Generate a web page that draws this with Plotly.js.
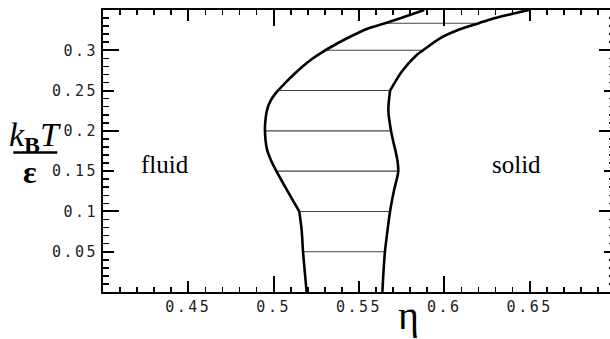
<!DOCTYPE html>
<html>
<head>
<meta charset="utf-8">
<script src="https://cdn.plot.ly/plotly-3.0.1.min.js"></script>
<style>
html, body { margin: 0; padding: 0; overflow: hidden; background: #fff; }
#chart { width: 635px; height: 339px; }
.xtick text, .ytick text { letter-spacing: 2.5px; }
</style>
</head>
<body>
<div id="chart"></div>
<script>
// Fluid-side coexistence boundary (packing fraction eta vs reduced temperature)
var fluidEta = [0.5193, 0.5179, 0.5172, 0.5164, 0.5150, 0.5109, 0.5058, 0.5016, 0.4984, 0.4961, 0.4949, 0.4953, 0.4964, 0.4984, 0.5008, 0.5025, 0.5067, 0.5121, 0.5173, 0.5224, 0.5276, 0.5315, 0.5430, 0.5553, 0.5662, 0.5763, 0.5882];
var fluidT   = [0.000,  0.033,  0.050,  0.0765, 0.100,  0.115,  0.134,  0.150,  0.1636, 0.177,  0.1996, 0.2158, 0.2283, 0.2382, 0.2456, 0.2498, 0.2593, 0.2705, 0.2805, 0.2892, 0.2966, 0.3016, 0.3149, 0.3271, 0.3342, 0.3414, 0.350];
var fluidCorner = 4;   // index of the kink at T = 0.1
// Solid-side coexistence boundary
var solidEta = [0.5637, 0.5644, 0.5652, 0.5667, 0.5682, 0.5705, 0.5730, 0.5725, 0.5717, 0.5688, 0.5672, 0.5682, 0.5750, 0.5838, 0.5872, 0.5974, 0.6073, 0.6202, 0.6278, 0.6383, 0.6495];
var solidT   = [0.000,  0.0267, 0.050,  0.0765, 0.100,  0.126,  0.1495, 0.1636, 0.172,  0.1996, 0.2257, 0.2498, 0.2734, 0.2942, 0.2995, 0.3149, 0.3246, 0.3336, 0.3389, 0.3445, 0.350];
var solidCorner = 11;  // index of the kink at T = 0.25
// Tie lines
var tieT        = [0.05, 0.10, 0.15, 0.20, 0.25, 0.30, 0.3336];
var tieFluidEta = [0.5172, 0.5150, 0.5016, 0.4949, 0.5025, 0.5303, 0.5656];
var tieSolidEta = [0.5652, 0.5682, 0.5730, 0.5688, 0.5682, 0.5872, 0.6202];
// Ticks
var xTickVals = [0.45, 0.5, 0.55, 0.6, 0.65];
var xTickText = ['0.45', '0.5', '0.55', '0.6', '0.65'];
var yTickVals = [0.05, 0.1, 0.15, 0.2, 0.25, 0.3];
var yTickText = ['0.05', '0.1', '0.15', '0.2', '0.25', '0.3'];
var xLongTicks = [0.4, 0.5, 0.6, 0.7];
var yLongTicks = [0.1, 0.2, 0.3];

var tieX = [], tieY = [];
for (var i = 0; i < tieT.length; i++) {
  tieX.push(tieFluidEta[i], tieSolidEta[i], null);
  tieY.push(tieT[i], tieT[i], null);
}

function curve(xs, ys) {
  return {x: xs, y: ys, mode: 'lines', line: {color: '#000', width: 2.6, shape: 'spline', smoothing: 0.8},
          hoverinfo: 'skip', showlegend: false};
}

var traces = [
  {x: tieX, y: tieY, mode: 'lines', line: {color: '#444', width: 1.1}, hoverinfo: 'skip', showlegend: false},
  curve(fluidEta.slice(0, fluidCorner + 1), fluidT.slice(0, fluidCorner + 1)),
  curve(fluidEta.slice(fluidCorner), fluidT.slice(fluidCorner)),
  curve(solidEta.slice(0, solidCorner + 1), solidT.slice(0, solidCorner + 1)),
  curve(solidEta.slice(solidCorner), solidT.slice(solidCorner))
];

var tickFont = {family: 'DejaVu Sans Mono, monospace', size: 15, color: '#222'};
var serif = 'Liberation Serif, Times New Roman, serif';

var layout = {
  width: 635, height: 339,
  margin: {l: 103, r: 20, t: 10, b: 47},
  paper_bgcolor: '#fff', plot_bgcolor: '#fff',
  showlegend: false,
  xaxis: {
    range: [0.4, 0.7], tickmode: 'array', tickvals: xTickVals, ticktext: xTickText,
    ticks: 'inside', ticklen: 11, tickwidth: 2, tickcolor: '#000',
    showline: true, linecolor: '#000', linewidth: 2, mirror: 'ticks',
    showgrid: false, zeroline: false, tickfont: tickFont,
    minor: {dtick: 0.01, tick0: 0.4, ticks: 'inside', ticklen: 5, tickwidth: 1.6, tickcolor: '#000', showgrid: false}
  },
  yaxis: {
    range: [0, 0.35], tickmode: 'array', tickvals: yTickVals, ticktext: yTickText,
    ticks: 'inside', ticklen: 11, tickwidth: 2, tickcolor: '#000',
    showline: true, linecolor: '#000', linewidth: 2, mirror: 'ticks',
    showgrid: false, zeroline: false, tickfont: tickFont,
    minor: {dtick: 0.01, tick0: 0, ticks: 'inside', ticklen: 6, tickwidth: 1.6, tickcolor: '#000', showgrid: false}
  },
  xaxis2: {
    overlaying: 'x', anchor: 'y', side: 'bottom', range: [0.4, 0.7],
    tickmode: 'array', tickvals: xLongTicks, ticks: 'inside', ticklen: 16, tickwidth: 2, tickcolor: '#000',
    showticklabels: false, showline: false, showgrid: false, zeroline: false, mirror: 'ticks'
  },
  yaxis2: {
    overlaying: 'y', anchor: 'x', side: 'left', range: [0, 0.35],
    tickmode: 'array', tickvals: yLongTicks, ticks: 'inside', ticklen: 16, tickwidth: 2, tickcolor: '#000',
    showticklabels: false, showline: false, showgrid: false, zeroline: false, mirror: 'ticks'
  },
  annotations: [
    {xref: 'x', yref: 'y', x: 0.4363, y: 0.158, text: 'fluid', showarrow: false,
     font: {family: serif, size: 25, color: '#000'}, xanchor: 'center', yanchor: 'middle'},
    {xref: 'x', yref: 'y', x: 0.6424, y: 0.158, text: 'solid', showarrow: false,
     font: {family: serif, size: 25, color: '#000'}, xanchor: 'center', yanchor: 'middle'},
    {xref: 'paper', yref: 'paper', x: 0.596, y: 0.005, text: 'η', showarrow: false,
     font: {family: serif, size: 40, color: '#000'}, xanchor: 'center', yanchor: 'top'},
    {xref: 'paper', yref: 'paper', x: -0.132, y: 0.548, text: '<i>k</i><sub><b>B</b></sub><i>T</i>', showarrow: false,
     font: {family: serif, size: 34, color: '#000'}, xanchor: 'center', yanchor: 'middle'},
    {xref: 'paper', yref: 'paper', x: -0.1426, y: 0.425, text: '<b>ε</b>', showarrow: false,
     font: {family: serif, size: 32, color: '#000'}, xanchor: 'center', yanchor: 'middle'}
  ],
  shapes: [
    {type: 'line', xref: 'paper', yref: 'paper', x0: -0.1752, x1: -0.0893, y0: 0.4947, y1: 0.4947,
     line: {color: '#000', width: 2.5}}
  ]
};

// invisible point that activates the overlay axes carrying the long ticks
traces.push({x: [0.4], y: [0], xaxis: 'x2', yaxis: 'y2', mode: 'markers', marker: {opacity: 0}, hoverinfo: 'skip', showlegend: false});

Plotly.newPlot('chart', traces, layout, {staticPlot: true, displayModeBar: false});
</script>
</body>
</html>
